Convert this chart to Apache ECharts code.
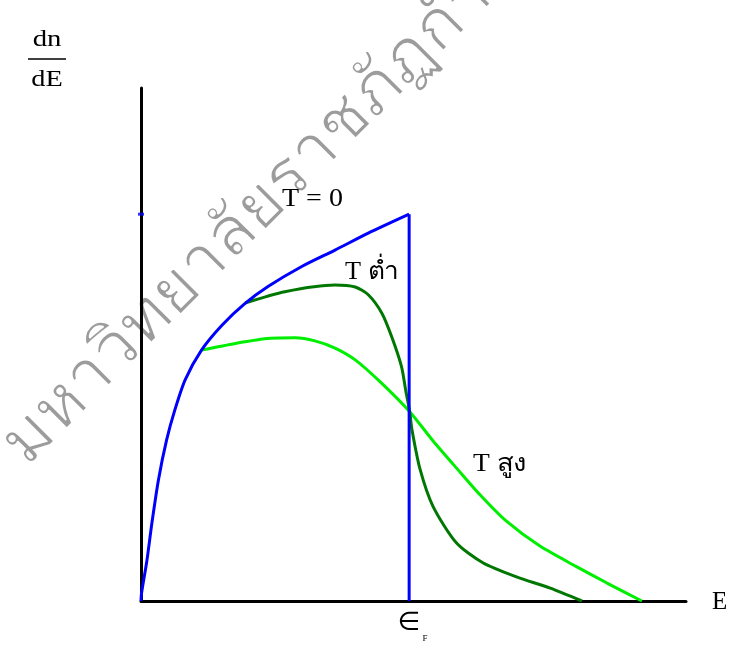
<!DOCTYPE html>
<html>
<head>
<meta charset="utf-8">
<script src="https://cdn.jsdelivr.net/npm/echarts@6/dist/echarts.min.js"></script>
<style>html,body{margin:0;padding:0;background:#fff;}#c{width:733px;height:653px;}</style>
</head>
<body>
<div id="c"></div>
<script>
// Energy E (arbitrary units, 0..10) and dn/dE (arbitrary units, 0..10)
const blueX = [0, 0.01, 0.11, 0.20, 0.32, 0.47, 0.62, 0.81, 1.11, 1.49, 1.91, 2.33, 2.95, 3.56, 4.17, 4.92];
const blueY = [0, 0.15, 0.80, 1.52, 2.36, 3.14, 3.72, 4.31, 4.89, 5.38, 5.80, 6.13, 6.52, 6.84, 7.17, 7.54];
const fermiX = [4.92, 4.92];
const fermiY = [7.54, 0];
const lowX = [1.91, 2.64, 3.56, 3.93, 4.17, 4.42, 4.60, 4.78, 4.86, 4.93, 4.97, 5.12, 5.36, 5.79, 6.28, 6.89, 7.51, 8.09];
const lowY = [5.81, 6.03, 6.16, 6.12, 5.97, 5.61, 5.15, 4.57, 4.09, 3.69, 3.35, 2.57, 1.84, 1.13, 0.74, 0.47, 0.25, 0];
const highX = [1.11, 1.73, 2.37, 2.83, 3.19, 3.56, 3.93, 4.39, 4.93, 5.36, 5.79, 6.22, 6.70, 7.32, 7.99, 8.55, 9.19];
const highY = [4.89, 5.02, 5.12, 5.13, 5.07, 4.93, 4.70, 4.27, 3.69, 3.12, 2.59, 2.07, 1.56, 1.07, 0.67, 0.35, 0];
const labelT0 = 'T = 0';
const labelLow = 'T ต่ำ';
const labelHigh = 'T สูง';
const yLabelTop = 'dn';
const yLabelBottom = 'dE';
const xLabel = 'E';
const fermiLabel = '∈';
const fermiSub = 'F';
const watermark = 'มหาวิทยาลัยราชภัฏกำแพงเพชร';

const zip = (xs, ys) => xs.map((x, i) => [x, ys[i]]);
const serif = '"Liberation Serif", "Times New Roman", serif';
const wmFont = '68px "Noto Sans", sans-serif';

const chart = echarts.init(document.getElementById('c'), null, {renderer: 'canvas'});
chart.setOption({
  animation: false,
  backgroundColor: '#fff',
  grid: {left: 141, top: 88, right: 47, bottom: 52},
  xAxis: {
    type: 'value', min: 0, max: 10,
    axisLine: {show: true, onZero: false, lineStyle: {color: '#000', width: 3}},
    axisTick: {show: false}, axisLabel: {show: false}, splitLine: {show: false}
  },
  yAxis: {
    type: 'value', min: 0, max: 10,
    axisLine: {show: true, onZero: false, lineStyle: {color: '#000', width: 3}},
    axisTick: {show: false}, axisLabel: {show: false}, splitLine: {show: false}
  },
  series: [
    {type: 'line', data: zip(highX, highY), smooth: 0.25, showSymbol: false,
     lineStyle: {color: '#00ee00', width: 3}, z: 2},
    {type: 'line', data: zip(lowX, lowY), smooth: 0.25, showSymbol: false,
     lineStyle: {color: '#007700', width: 3}, z: 3},
    {type: 'line', data: zip(blueX, blueY), smooth: 0.25, showSymbol: false,
     lineStyle: {color: '#0000ff', width: 3}, z: 4},
    {type: 'line', data: zip(fermiX, fermiY), showSymbol: false,
     lineStyle: {color: '#0000ff', width: 3}, z: 4},
    {type: 'scatter', data: [[0, blueY[blueY.length - 1]]], symbol: 'rect', symbolSize: [6, 3],
     itemStyle: {color: '#0000ff'}, z: 5}
  ],
  graphic: [
    {type: 'text', z: -10, silent: true,
     x: 13, y: 454, rotation: Math.PI / 4,
     style: {text: watermark, font: wmFont, fill: '#9c9c9c',
             textAlign: 'left', textVerticalAlign: 'middle'}},
    {type: 'text', z: -9, silent: true,
     x: 13, y: 454, rotation: Math.PI / 4,
     style: {text: watermark, font: wmFont, fill: null, stroke: '#ffffff', lineWidth: 1.6,
             textAlign: 'left', textVerticalAlign: 'middle'}},
    {type: 'text', x: 282, y: 199, z: 110, scaleX: 1.12,
     style: {text: labelT0, font: '25px ' + serif, fill: '#000', textAlign: 'left', textVerticalAlign: 'middle'}},
    {type: 'text', x: 345, y: 272, z: 110, scaleX: 1.05,
     style: {text: labelLow, font: '25px ' + serif, fill: '#000', textAlign: 'left', textVerticalAlign: 'middle'}},
    {type: 'text', x: 473, y: 464, z: 110, scaleX: 1.1,
     style: {text: labelHigh, font: '25px ' + serif, fill: '#000', textAlign: 'left', textVerticalAlign: 'middle'}},
    {type: 'text', x: 47, y: 40, z: 110, scaleX: 1.25,
     style: {text: yLabelTop, font: '23px ' + serif, fill: '#000', textAlign: 'center', textVerticalAlign: 'middle'}},
    {type: 'line', z: 110, shape: {x1: 28, y1: 59, x2: 66, y2: 59}, style: {stroke: '#000', lineWidth: 1.5}},
    {type: 'text', x: 47, y: 80, z: 110, scaleX: 1.23,
     style: {text: yLabelBottom, font: '23px ' + serif, fill: '#000', textAlign: 'center', textVerticalAlign: 'middle'}},
    {type: 'text', x: 712, y: 602, z: 110,
     style: {text: xLabel, font: '25px ' + serif, fill: '#000', textAlign: 'left', textVerticalAlign: 'middle'}},
    {type: 'text', x: 409, y: 623, z: 110,
     style: {text: fermiLabel, font: '26px "DejaVu Sans", sans-serif', fill: '#000', textAlign: 'center', textVerticalAlign: 'middle'}},
    {type: 'text', x: 425, y: 639, z: 110,
     style: {text: fermiSub, font: '9px ' + serif, fill: '#000', textAlign: 'center', textVerticalAlign: 'middle'}}
  ]
});
</script>
</body>
</html>
